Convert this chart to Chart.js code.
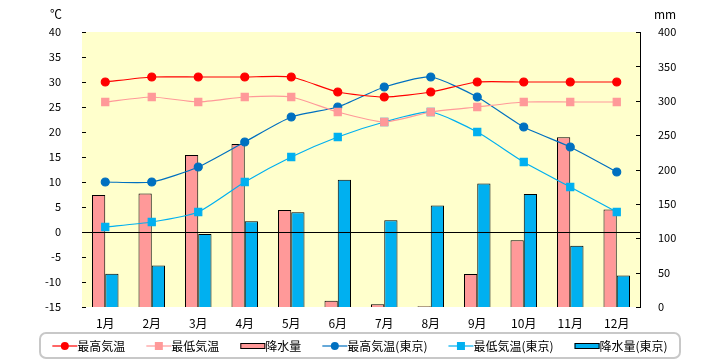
<!DOCTYPE html>
<html>
<head>
<meta charset="utf-8">
<script src="https://cdn.jsdelivr.net/npm/chart.js@4"></script>
<style>
  html, body { margin: 0; padding: 0; background: #fff; }
  #wrap { width: 720px; height: 360px; }
</style>
</head>
<body>
<div id="wrap"><canvas id="climateChart" width="720" height="360"></canvas></div>
<script>
// 月ラベル
const months = ['1月', '2月', '3月', '4月', '5月', '6月', '7月', '8月', '9月', '10月', '11月', '12月'];

// 気温 (℃)
const maxTemp = [30, 31, 31, 31, 31, 28, 27, 28, 30, 30, 30, 30];
const minTemp = [26, 27, 26, 27, 27, 24, 22, 24, 25, 26, 26, 26];
const maxTempTokyo = [10, 10, 13, 18, 23, 25, 29, 31, 27, 21, 17, 12];
const minTempTokyo = [1, 2, 4, 10, 15, 19, 22, 24, 20, 14, 9, 4];

// 降水量 (mm)
const rain = [163, 165, 221, 237, 141, 9, 4, 1, 48, 97, 247, 142];
const rainTokyo = [48.5, 60.5, 106.1, 124.8, 137.8, 185.0, 126.1, 147.5, 179.8, 164.2, 89.1, 45.7];

// 軸の目盛り
const tempTicks = [40, 35, 30, 25, 20, 15, 10, 5, 0, -5, -10, -15];
const rainTicks = [400, 350, 300, 250, 200, 150, 100, 50, 0];

const FONT = "'Noto Sans CJK JP', 'Noto Sans', sans-serif";
Chart.defaults.font.family = FONT;
Chart.defaults.color = '#000';

// 背景色・0℃線・内向き目盛り
const plotDecor = {
  id: 'plotDecor',
  beforeDatasetsDraw(chart) {
    const { ctx, chartArea: a } = chart;
    ctx.save();
    ctx.fillStyle = '#FFFFCC';
    ctx.fillRect(a.left, a.top, a.right - a.left, a.bottom - a.top);
    ctx.restore();
  },
  afterDatasetsDraw(chart) {
    const { ctx, chartArea: a, scales } = chart;
    ctx.save();
    ctx.strokeStyle = '#000';
    ctx.lineWidth = 1;
    const y0 = Math.round(scales.y.getPixelForValue(0)) + 0.5;
    ctx.beginPath();
    ctx.moveTo(a.left, y0);
    ctx.lineTo(a.right, y0);
    ctx.stroke();
    // 目盛り線（内側）
    ctx.beginPath();
    scales.y.ticks.forEach(t => {
      const y = Math.round(scales.y.getPixelForValue(t.value)) + 0.5;
      ctx.moveTo(a.left, y); ctx.lineTo(a.left + 4, y);
    });
    scales.y2.ticks.forEach(t => {
      const y = Math.round(scales.y2.getPixelForValue(t.value)) + 0.5;
      ctx.moveTo(a.right, y); ctx.lineTo(a.right - 4, y);
    });
    ctx.stroke();
    // 単位
    ctx.font = '12px ' + FONT;
    ctx.fillStyle = '#000';
    ctx.textBaseline = 'middle';
    ctx.textAlign = 'center';
    ctx.fillText('℃', 56, 14);
    ctx.fillText('mm', 665, 14);
    ctx.restore();
  }
};

// 凡例（枠付き）
function drawSymbol(ctx, ds, x, y) {
  const w = 25;
  if (ds.type === 'bar') {
    ctx.fillStyle = ds.backgroundColor;
    ctx.fillRect(x, y - 3, w, 6);
    ctx.strokeStyle = '#000';
    ctx.lineWidth = 1;
    ctx.strokeRect(x + 0.5, y - 2.5, w - 1, 5);
    return;
  }
  ctx.strokeStyle = ds.borderColor;
  ctx.lineWidth = 1.2;
  ctx.beginPath();
  ctx.moveTo(x, y); ctx.lineTo(x + w, y);
  ctx.stroke();
  ctx.fillStyle = ds.pointBackgroundColor;
  if (ds.pointStyle === 'rect') {
    ctx.fillRect(x + w / 2 - 4, y - 4, 8, 8);
  } else {
    ctx.beginPath();
    ctx.arc(x + w / 2, y, 4, 0, Math.PI * 2);
    ctx.fill();
  }
}

const boxLegend = {
  id: 'boxLegend',
  afterDraw(chart) {
    const { ctx } = chart;
    const items = chart.data.datasets;
    ctx.save();
    ctx.strokeStyle = '#c8c8c8';
    ctx.lineWidth = 2;
    ctx.beginPath();
    ctx.roundRect(40, 333, 640, 25, 6);
    ctx.stroke();

    ctx.font = '12px ' + FONT;
    ctx.textBaseline = 'middle';
    ctx.textAlign = 'left';
    const gap = 21, sym = 25;
    const widths = items.map(d => sym + ctx.measureText(d.label).width);
    const total = widths.reduce((s, w) => s + w, 0) + gap * (items.length - 1);
    let x = 360 - total / 2;
    const y = 346;
    items.forEach((d, i) => {
      drawSymbol(ctx, d, x, y);
      ctx.fillStyle = '#000';
      ctx.fillText(d.label, x + sym, y);
      x += widths[i] + gap;
    });
    ctx.restore();
  }
};

function lineSet(label, data, color, style) {
  return {
    type: 'line', label, data, yAxisID: 'y', order: 0,
    borderColor: color, backgroundColor: color,
    pointBackgroundColor: color, pointBorderColor: color,
    pointStyle: style, pointRadius: style === 'rect' ? 5 : 4,
    borderWidth: 1.2, tension: 0.2, fill: false
  };
}

function barSet(label, data, color) {
  return {
    type: 'bar', label, data, yAxisID: 'y2', order: 1,
    backgroundColor: color, borderColor: '#000', borderWidth: 1,
    categoryPercentage: 0.57, barPercentage: 1.0
  };
}

new Chart(document.getElementById('climateChart'), {
  data: {
    labels: months,
    datasets: [
      lineSet('最高気温', maxTemp, '#FF0000', 'circle'),
      lineSet('最低気温', minTemp, '#FF9999', 'rect'),
      barSet('降水量', rain, '#FF9999'),
      lineSet('最高気温(東京)', maxTempTokyo, '#0070C0', 'circle'),
      lineSet('最低気温(東京)', minTempTokyo, '#00B0F0', 'rect'),
      barSet('降水量(東京)', rainTokyo, '#00B0F0')
    ]
  },
  options: {
    responsive: false,
    animation: false,
    layout: { padding: { top: 32, left: 0, right: 0, bottom: 0 } },
    plugins: { legend: { display: false }, tooltip: { enabled: false } },
    scales: {
      x: {
        offset: true,
        grid: { display: false },
        border: { display: false },
        ticks: { font: { size: 12 }, padding: 1, maxRotation: 0 },
        afterFit: s => { s.height = 53; }
      },
      y: {
        position: 'left',
        min: -15, max: 40,
        afterBuildTicks: s => { s.ticks = tempTicks.map(v => ({ value: v })); },
        grid: { display: false },
        border: { display: true, color: '#000', width: 1 },
        ticks: { font: { size: 11 }, padding: 13 },
        afterFit: s => { s.width = 82; }
      },
      y2: {
        position: 'right',
        min: 0, max: 400,
        afterBuildTicks: s => { s.ticks = rainTicks.map(v => ({ value: v })); },
        grid: { display: false },
        border: { display: true, color: '#000', width: 1 },
        ticks: { font: { size: 11 }, padding: 10 },
        afterFit: s => { s.width = 80; }
      }
    }
  },
  plugins: [plotDecor, boxLegend]
});
</script>
</body>
</html>
